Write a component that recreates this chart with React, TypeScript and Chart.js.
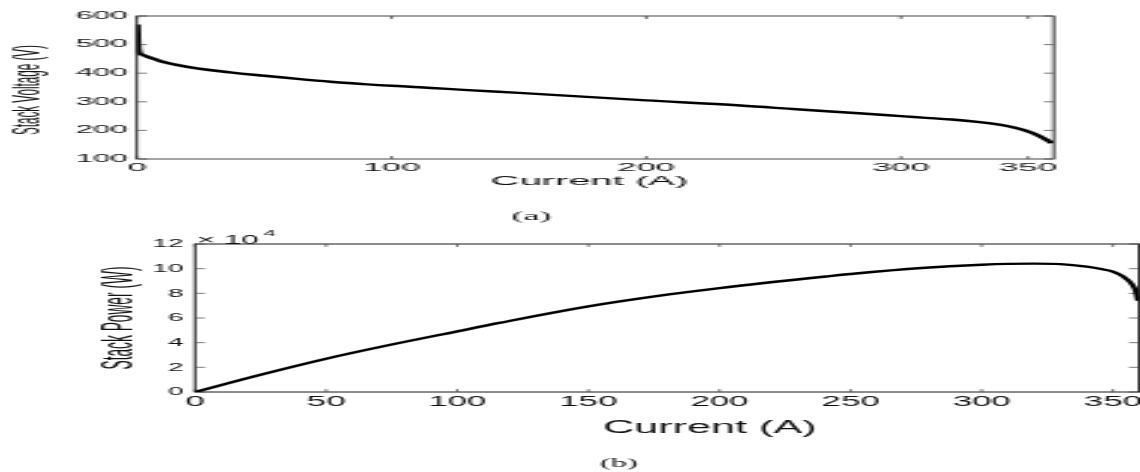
import React, { useEffect, useRef } from "react";
import { Chart, registerables } from "chart.js";

Chart.register(...registerables);

// ---- Data: panel (a) Stack Voltage vs Current ----
const voltageCurrent = [0, 0.3, 0.6, 1, 2, 4, 7, 10, 15, 23.5, 36.5, 50, 63, 76, 89, 100, 111, 130, 150, 190, 200, 237, 259, 285, 300, 310, 320, 330, 338, 344, 349, 353.5, 357.4, 359.4];
const stackVoltage = [570, 500, 478, 470, 465, 458, 449, 440, 430, 417, 403, 391, 380, 370, 362, 356, 351, 341, 331, 310, 305, 287, 274, 259, 250, 244, 238, 230, 221, 211, 199, 184, 166, 155];
const voltageXTicks = [0, 100, 200, 300, 350];
const voltageYTicks = [100, 200, 300, 400, 500, 600];

// ---- Data: panel (b) Stack Power vs Current ----
const powerCurrent = [0, 25, 50, 75, 100, 116, 150, 180, 200, 242, 250, 277, 300, 310, 320, 330, 340, 346, 350, 354, 357, 358.7, 359.6];
const stackPower = [0, 14000, 27000, 38500, 49200, 56000, 69400, 78900, 84300, 94000, 95700, 100500, 103200, 103900, 104100, 103700, 101600, 99500, 97600, 93500, 88000, 82000, 74000];
const powerXTicks = [0, 50, 100, 150, 200, 250, 300, 350];
const powerYTicks = [0, 20000, 40000, 60000, 80000, 100000, 120000];

const SANS = '"Liberation Sans", Arial, Helvetica, sans-serif';
const SERIF = '"Liberation Serif", "Times New Roman", serif';

type TextItem = {
  text: string;
  x: number;
  y: number;
  size: number;
  family: string;
  rotate?: boolean;
  maxWidth?: number;
  sup?: { text: string; size: number; dy: number; gap: number };
  align?: CanvasTextAlign;
  baseline?: CanvasTextBaseline;
};

type PanelCfg = {
  xs: number[];
  ys: number[];
  xTicks: number[];
  yTicks: number[];
  xMin: number;
  xMax: number;
  yMin: number;
  yMax: number;
  yLabel: (v: number) => string;
  width: number;
  height: number;
  plotLeft: number;
  plotRight: number;
  plotTop: number;
  plotBottom: number;
  xTickFont: number;
  yTickFont: number;
  xTickPad: number;
  yTickPad: number;
  frameWidth: number;
  xTickLen: number;
  yTickLen: number;
  lineWidth: number;
  texts: TextItem[];
};

function decorPlugin(cfg: PanelCfg) {
  return {
    id: "decor",
    beforeDatasetsDraw(chart: any) {
      const { ctx, chartArea: a } = chart;
      const xs = chart.scales.x;
      const ys = chart.scales.y;
      ctx.save();
      ctx.strokeStyle = "#1a1a1a";
      ctx.lineWidth = cfg.frameWidth;
      ctx.strokeRect(a.left, a.top, a.right - a.left, a.bottom - a.top);
      ctx.strokeStyle = "#444";
      ctx.lineWidth = 0.7;
      ctx.beginPath();
      xs.ticks.forEach((t: any) => {
        const p = xs.getPixelForValue(t.value);
        ctx.moveTo(p, a.bottom);
        ctx.lineTo(p, a.bottom - cfg.xTickLen);
        ctx.moveTo(p, a.top);
        ctx.lineTo(p, a.top + cfg.xTickLen);
      });
      ys.ticks.forEach((t: any) => {
        const p = ys.getPixelForValue(t.value);
        ctx.moveTo(a.left, p);
        ctx.lineTo(a.left + cfg.yTickLen, p);
        ctx.moveTo(a.right, p);
        ctx.lineTo(a.right - cfg.yTickLen, p);
      });
      ctx.stroke();
      ctx.restore();
    },
    afterDraw(chart: any) {
      const { ctx } = chart;
      cfg.texts.forEach((t) => {
        ctx.save();
        ctx.fillStyle = "#111";
        ctx.font = `${t.size}px ${t.family}`;
        ctx.textAlign = t.align || "center";
        ctx.textBaseline = t.baseline || "middle";
        ctx.translate(t.x, t.y);
        if (t.rotate) ctx.rotate(-Math.PI / 2);
        if (t.maxWidth) ctx.fillText(t.text, 0, 0, t.maxWidth);
        else ctx.fillText(t.text, 0, 0);
        if (t.sup) {
          const w = ctx.measureText(t.text).width;
          ctx.font = `${t.sup.size}px ${t.family}`;
          ctx.textAlign = "left";
          ctx.fillText(t.sup.text, w + t.sup.gap, t.sup.dy);
        }
        ctx.restore();
      });
    },
  };
}

function buildChart(canvas: HTMLCanvasElement, cfg: PanelCfg) {
  const points = cfg.xs.map((x, i) => ({ x, y: cfg.ys[i] }));
  return new Chart(canvas, {
    type: "line",
    data: {
      datasets: [
        {
          data: points,
          borderColor: "#000",
          borderWidth: cfg.lineWidth,
          pointRadius: 0,
          fill: false,
          cubicInterpolationMode: "monotone",
        },
      ],
    },
    options: {
      animation: false,
      responsive: false,
      maintainAspectRatio: false,
      devicePixelRatio: 1,
      events: [],
      layout: {
        padding: { left: 0, top: cfg.plotTop, right: cfg.width - cfg.plotRight, bottom: 0 },
      },
      plugins: {
        legend: { display: false },
        tooltip: { enabled: false },
        title: { display: false },
      },
      scales: {
        x: {
          type: "linear",
          min: cfg.xMin,
          max: cfg.xMax,
          grid: { display: false, drawTicks: false },
          border: { display: false },
          afterBuildTicks: (s: any) => {
            s.ticks = cfg.xTicks.map((v) => ({ value: v }));
          },
          afterFit: (s: any) => {
            s.height = cfg.height - cfg.plotBottom;
            s.paddingLeft = 0;
            s.paddingRight = 0;
            s.paddingTop = 0;
            s.paddingBottom = 0;
          },
          ticks: {
            autoSkip: false,
            maxRotation: 0,
            minRotation: 0,
            padding: cfg.xTickPad,
            color: "#111",
            font: { family: SANS, size: cfg.xTickFont },
            callback: (v: any) => String(v),
          },
        },
        y: {
          type: "linear",
          min: cfg.yMin,
          max: cfg.yMax,
          grid: { display: false, drawTicks: false },
          border: { display: false },
          afterBuildTicks: (s: any) => {
            s.ticks = cfg.yTicks.map((v) => ({ value: v }));
          },
          afterFit: (s: any) => {
            s.width = cfg.plotLeft;
            s.paddingLeft = 0;
            s.paddingRight = 0;
            s.paddingTop = 0;
            s.paddingBottom = 0;
          },
          ticks: {
            autoSkip: false,
            padding: cfg.yTickPad,
            color: "#111",
            font: { family: SANS, size: cfg.yTickFont },
            callback: (v: any) => cfg.yLabel(Number(v)),
          },
        },
      },
    },
    plugins: [decorPlugin(cfg)],
  } as any);
}

// Panel (a): drawn at 380 logical px wide, stretched to 1140 (3x)
const cfgA: PanelCfg = {
  xs: voltageCurrent,
  ys: stackVoltage,
  xTicks: voltageXTicks,
  yTicks: voltageYTicks,
  xMin: 0,
  xMax: 360,
  yMin: 100,
  yMax: 600,
  yLabel: (v) => String(v),
  width: 380,
  height: 230,
  plotLeft: 45.67,
  plotRight: 351.2,
  plotTop: 16,
  plotBottom: 159,
  xTickFont: 11.5,
  yTickFont: 10.5,
  xTickPad: 1.5,
  yTickPad: 3,
  frameWidth: 0.8,
  xTickLen: 3,
  yTickLen: 3.3,
  lineWidth: 2.4,
  texts: [
    { text: "Stack Voltage (V)", x: 9.7, y: 90, size: 13.5, family: SANS, rotate: true, maxWidth: 90 },
    { text: "Current (A)", x: 196.5, y: 181, size: 13.3, family: SANS },
    { text: "(a)", x: 177.2, y: 216.7, size: 12, family: SERIF },
  ],
};

// Panel (b): drawn at 475 logical px wide, stretched to 1140 (2.4x)
const cfgB: PanelCfg = {
  xs: powerCurrent,
  ys: stackPower,
  xTicks: powerXTicks,
  yTicks: powerYTicks,
  xMin: 0,
  xMax: 360,
  yMin: 0,
  yMax: 120000,
  yLabel: (v) => String(Math.round(v / 10000)),
  width: 475,
  height: 242,
  plotLeft: 81.25,
  plotRight: 474.6,
  plotTop: 14,
  plotBottom: 162,
  xTickFont: 14.5,
  yTickFont: 11.6,
  xTickPad: 1.5,
  yTickPad: 4.8,
  frameWidth: 1,
  xTickLen: 3,
  yTickLen: 4.2,
  lineWidth: 2.4,
  texts: [
    { text: "Stack Power (W)", x: 50, y: 88, size: 17.5, family: SANS, rotate: true, maxWidth: 103 },
    { text: "Current (A)", x: 295.8, y: 198, size: 18, family: SANS },
    { text: "(b)", x: 257.9, y: 233, size: 13.5, family: SERIF },
    {
      text: "\u00d7 10",
      x: 82,
      y: 13.5,
      size: 13,
      family: SANS,
      align: "left",
      baseline: "alphabetic",
      sup: { text: "4", size: 9, dy: -7.5, gap: 2 },
    },
  ],
};

export default function App() {
  const refA = useRef<HTMLCanvasElement | null>(null);
  const refB = useRef<HTMLCanvasElement | null>(null);

  useEffect(() => {
    if (!refA.current || !refB.current) return;
    const a = buildChart(refA.current, cfgA);
    const b = buildChart(refB.current, cfgB);
    return () => {
      a.destroy();
      b.destroy();
    };
  }, []);

  return (
    <div style={{ position: "fixed", left: 0, top: 0, width: 1140, height: 472, background: "#fff", overflow: "hidden" }}>
      <canvas
        ref={refA}
        width={cfgA.width}
        height={cfgA.height}
        style={{ position: "absolute", left: 0, top: 0, width: "1140px", height: `${cfgA.height}px`, display: "block" }}
      />
      <canvas
        ref={refB}
        width={cfgB.width}
        height={cfgB.height}
        style={{ position: "absolute", left: 0, top: `${cfgA.height}px`, width: "1140px", height: `${cfgB.height}px`, display: "block" }}
      />
    </div>
  );
}
